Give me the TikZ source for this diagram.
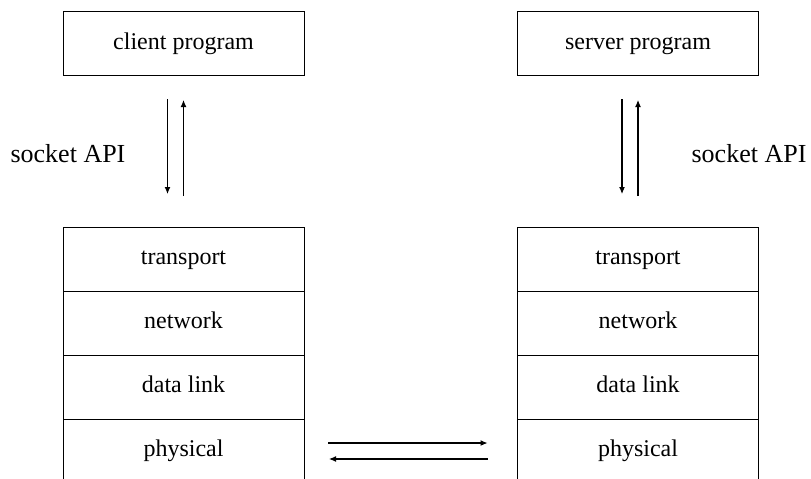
\documentclass[tikz,border=0pt]{standalone}
\usepackage{fontspec}
\setmainfont{Liberation Serif}
\newfontfamily\diagfont{Liberation Serif}
\usetikzlibrary{positioning,arrows.meta}
\tikzset{
  layer/.style={draw,line width=1pt,minimum width=241pt,minimum height=64pt,inner sep=0pt,outer sep=0pt,text height=16pt,text depth=5pt,font=\diagfont\fontsize{24}{28}\selectfont},
  apilabel/.style={font=\diagfont\fontsize{26}{30}\selectfont},
}
\begin{document}
\begin{tikzpicture}[x=1pt,y=-1pt]
\useasboundingbox (0,0) rectangle (811,479);
\clip (0,0) rectangle (811,479);
%\draw[help lines] (0,0) grid[step=50] (811,479);
\node[layer] (cprog) at (183.5,43.5) {client program};
\node[layer] (sprog) at (638,43.5) {server program};
\node[layer] (ctrans) at (183.5,259) {transport};
\node[layer,below=0pt of ctrans] (cnet) {network};
\node[layer,below=0pt of cnet] (clink) {data link};
\node[layer,below=0pt of clink] (cphys) {physical};
\node[layer] (strans) at (638,259) {transport};
\node[layer,below=0pt of strans] (snet) {network};
\node[layer,below=0pt of snet] (slink) {data link};
\node[layer,below=0pt of slink] (sphys) {physical};
\node[apilabel] (capi) at (68,154) {socket API};
\node[apilabel] (sapi) at (749,154) {socket API};
\draw[->,>={Latex[length=7pt,width=6pt]},line width=1.1pt] ([xshift=-16pt,yshift=-23.5pt]cprog.south)--([xshift=-16pt,yshift=33pt]ctrans.north);
\draw[->,>={Latex[length=7pt,width=6pt]},line width=1.1pt] ([yshift=31pt]ctrans.north)--([yshift=-24.5pt]cprog.south);
\draw[->,>={Latex[length=7pt,width=6pt]},line width=1.1pt] ([xshift=-16pt,yshift=-23.5pt]sprog.south)--([xshift=-16pt,yshift=33pt]strans.north);
\draw[->,>={Latex[length=7pt,width=6pt]},line width=1.1pt] ([yshift=31pt]strans.north)--([yshift=-24.5pt]sprog.south);
\draw[->,>={Latex[length=7pt,width=6pt]},line width=1.1pt] ([xshift=24pt,yshift=8pt]cphys.east)--([xshift=-30pt,yshift=8pt]sphys.west);
\draw[->,>={Latex[length=7pt,width=6pt]},line width=1.1pt] ([xshift=-30pt,yshift=-8pt]sphys.west)--([xshift=25pt,yshift=-8pt]cphys.east);
\end{tikzpicture}
\end{document}
